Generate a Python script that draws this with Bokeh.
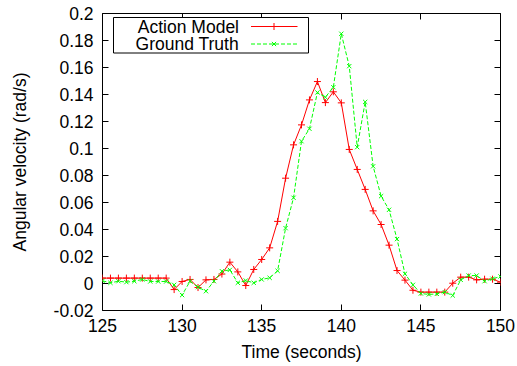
from bokeh.plotting import figure
from bokeh.models import (Range1d, LinearAxis, FixedTicker, PrintfTickFormatter,
                          BoxAnnotation, Label)
from bokeh.embed import file_html
from bokeh.resources import INLINE

# ---- data ----
time_s = [125, 125.5, 126, 126.5, 127, 127.5, 128, 128.5, 129, 129.5,
          130, 130.5, 131, 131.5, 132, 132.5, 133, 133.5, 134, 134.5,
          135, 135.5, 136, 136.5, 137, 137.5, 138, 138.5, 139, 139.5,
          140, 140.5, 141, 141.5, 142, 142.5, 143, 143.5, 144, 144.5,
          145, 145.5, 146, 146.5, 147, 147.5, 148, 148.5, 149, 149.5, 150]

action_model = [0.004, 0.004, 0.004, 0.004, 0.004, 0.004, 0.004, 0.004, 0.004, -0.0045,
                0.0015, 0.003, -0.003, 0.0027, 0.003, 0.007, 0.0158, 0.0086, -0.0015, 0.0104,
                0.0178, 0.0264, 0.046, 0.078, 0.1027, 0.1175, 0.136, 0.1496, 0.134, 0.142,
                0.1338, 0.0993, 0.0845, 0.0697, 0.0538, 0.0437, 0.0284, 0.0096, 0.0025, -0.005,
                -0.0064, -0.0064, -0.0064, -0.0064, 0.0002, 0.0047, 0.0047, 0.0027, 0.0032, 0.0032, 0.001]

ground_truth = [0.002, 0.0005, 0.0017, 0.001, 0.0017, 0.003, 0.0015, 0.0015, 0.0015, -0.001,
                -0.0086, 0.0017, -0.0027, -0.0057, 0.0017, 0.0091, 0.0101, 0.0005, 0.0022, 0.0005,
                0.003, 0.0042, 0.0094, 0.041, 0.0635, 0.1054, 0.1146, 0.1415, 0.138, 0.1454,
                0.185, 0.161, 0.101, 0.1345, 0.0868, 0.0647, 0.0546, 0.0329, 0.0072, -0.001,
                -0.0074, -0.0081, -0.0077, -0.0064, -0.0089, 0.0027, 0.0059, 0.0059, 0.0017, 0.0035, 0.0052]

x_ticks = [125, 130, 135, 140, 145, 150]
y_ticks = [-0.02, 0, 0.02, 0.04, 0.06, 0.08, 0.1, 0.12, 0.14, 0.16, 0.18, 0.2]

series_names = ["Action Model", "Ground Truth"]

FONT = "Liberation Sans"
FS = "17.5px"

W, H = 517, 366
ML, MR, MT, MB = 102, 17, 13, 56
FW, FH = W - ML - MR, H - MT - MB

p = figure(width=W, height=H, output_backend="svg", toolbar_location=None,
           x_range=Range1d(125, 150), y_range=Range1d(-0.02, 0.2),
           min_border_left=ML, min_border_right=MR, min_border_top=MT, min_border_bottom=MB,
           background_fill_color="white", border_fill_color="white")
p.grid.visible = False
p.outline_line_color = "black"
p.outline_line_width = 1
p.outline_line_alpha = 1

p.extra_x_ranges = {"px": Range1d(0, FW)}
p.extra_y_ranges = {"px": Range1d(0, FH)}

for ax in (p.xaxis[0], p.yaxis[0]):
    ax.axis_line_color = None
    ax.major_tick_in = 6
    ax.major_tick_out = 0
    ax.minor_tick_line_color = None
    ax.major_tick_line_color = "black"
    ax.major_label_text_font = FONT
    ax.major_label_text_font_size = FS
    ax.major_label_text_color = "black"
    ax.axis_label_text_font = FONT
    ax.axis_label_text_font_size = FS
    ax.axis_label_text_font_style = "normal"
    ax.axis_label_text_color = "black"
    ax.formatter = PrintfTickFormatter(format="%g")

p.xaxis[0].ticker = FixedTicker(ticks=x_ticks)
p.yaxis[0].ticker = FixedTicker(ticks=y_ticks)
p.xaxis[0].axis_label = "Time (seconds)"
p.yaxis[0].axis_label = "Angular velocity (rad/s)"
p.xaxis[0].major_label_standoff = 8
p.xaxis[0].axis_label_standoff = 7
p.yaxis[0].major_label_standoff = 9
p.yaxis[0].axis_label_standoff = 21

# mirror ticks (top / right), labels not painted
for loc, ticks in (("above", x_ticks), ("right", y_ticks)):
    ax = LinearAxis(ticker=FixedTicker(ticks=ticks), major_label_text_font_size="1px",
                    major_label_text_color=None, major_label_standoff=0,
                    axis_line_color=None, major_tick_in=6, major_tick_out=0,
                    minor_tick_line_color=None, major_tick_line_color="black")
    p.add_layout(ax, loc)

# data
p.line(time_s, action_model, line_color="#ff0000", line_width=1)
p.scatter(time_s, action_model, marker="cross", size=7, line_color="#ff0000", line_width=1)
p.line(time_s, ground_truth, line_color="#00ff00", line_width=1, line_dash="4 2")
p.scatter(time_s, ground_truth, marker="x", size=6, line_color="#00ff00", line_width=1)

# legend (gnuplot style: label then sample), frame-relative pixels
p.add_layout(BoxAnnotation(left=11, right=206, top=293, bottom=257.5,
                           left_units="screen", right_units="screen",
                           top_units="screen", bottom_units="screen",
                           fill_color="white", fill_alpha=1,
                           line_color="black", line_width=1, line_alpha=1,
                           level="annotation"))
rows_y = [284, 266.5]
colors = ["#ff0000", "#00ff00"]
dashes = ["solid", "4 2"]
markers = ["cross", "x"]
msizes = [7, 6]
for name, yy, c, d, m, ms in zip(series_names, rows_y, colors, dashes, markers, msizes):
    p.add_layout(Label(x=136.5, y=yy, x_units="screen", y_units="screen", text=name,
                       text_align="right", text_baseline="middle", text_font=FONT,
                       text_font_size=FS, text_color="black", level="overlay"))
    r1 = p.line([148.5, 195], [yy, yy], line_color=c, line_width=1, line_dash=d,
                x_range_name="px", y_range_name="px", level="overlay")
    r2 = p.scatter([171.5], [yy], marker=m, size=ms, line_color=c, line_width=1,
                   x_range_name="px", y_range_name="px", level="overlay")

open("out.html", "w").write(file_html(p, INLINE))
